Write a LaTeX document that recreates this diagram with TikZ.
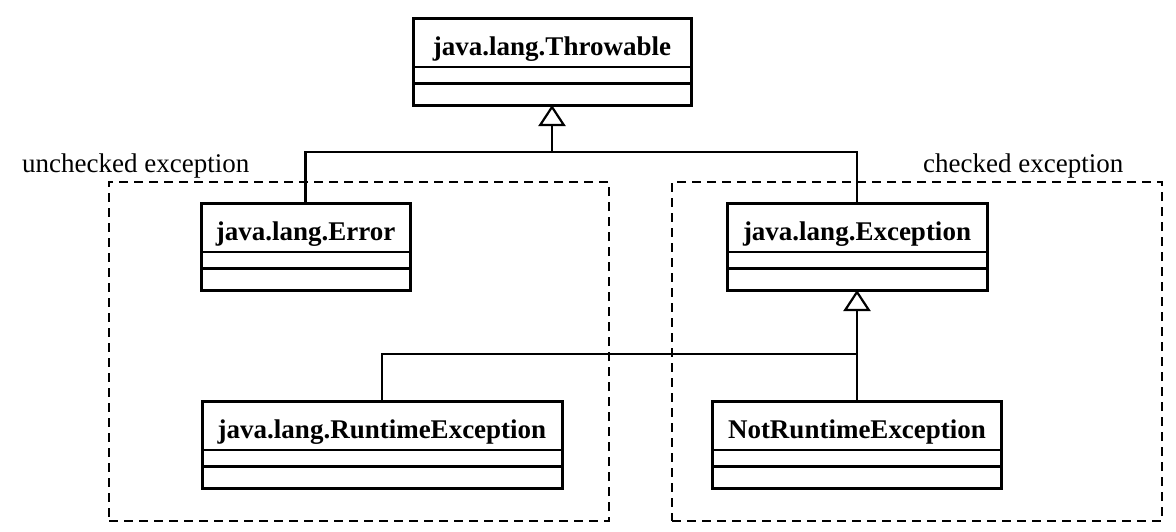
\documentclass[tikz,border=0pt]{standalone}
\usepackage{fontspec}
\setmainfont{Liberation Serif}
\usetikzlibrary{arrows.meta}
\newcommand\umlclass[5]{%
  \node[classbox, minimum width=#4pt, minimum height=87pt] (#1) at (#2,#3+43.5) {};
  \node[classname] (#1-name) at (#2,#3+37.5) {#5};
  \draw[sepline] ([yshift=-49pt]#1.north west) -- ([yshift=-49pt]#1.north east);
  \draw[sepline] ([yshift=-65.5pt]#1.north west) -- ([yshift=-65.5pt]#1.north east);
}
\begin{document}
\begin{tikzpicture}[x=1pt,y=-1pt,
  classbox/.style={draw, line width=3pt, rectangle, inner sep=0pt, outer sep=0pt, fill=white},
  classname/.style={font=\fontsize{27}{30}\selectfont\bfseries, inner sep=0pt, anchor=base},
  sepline/.style={line width=2.3pt},
  link/.style={line width=2.2pt},
  inherit/.style={link, -{Triangle[open, length=21pt, width=27pt, line width=2.2pt]}},
  region/.style={draw, line width=2.2pt, dash pattern=on 9pt off 6pt, inner sep=0pt, outer sep=0pt},
  regionlabel/.style={font=\fontsize{27}{30}\selectfont, inner sep=0pt, anchor=base west}]
\useasboundingbox (0,0) rectangle (1176,531);
% dashed regions
\node[region, minimum width=500pt, minimum height=339pt] (unchk) at (359,351.5) {};
\node[region, minimum width=490pt, minimum height=339pt] (chk) at (917,351.5) {};
\node[regionlabel] (unchk-label) at (22,172) {unchecked exception};
\node[regionlabel] (chk-label) at (923,172) {checked exception};
% classes
\umlclass{thr}{552}{18}{278}{java.lang.Throwable}
\umlclass{err}{305.5}{203}{209}{java.lang.Error}
\umlclass{exc}{857}{203}{260}{java.lang.Exception}
\umlclass{rte}{382}{401}{360}{java.lang.RuntimeException}
\umlclass{nre}{857}{401}{289}{NotRuntimeException}
% connectors
\path (thr.south) ++(0,47) coordinate (j1);
\draw[link] (err.north) |- (j1) -| (exc.north);
\draw[inherit] (j1) -- (thr.south);
\path (nre.north) ++(0,-47) coordinate (j2);
\draw[link] (rte.north) |- (j2) -- (nre.north);
\draw[inherit] (j2) -- (exc.south);
\end{tikzpicture}
\end{document}
